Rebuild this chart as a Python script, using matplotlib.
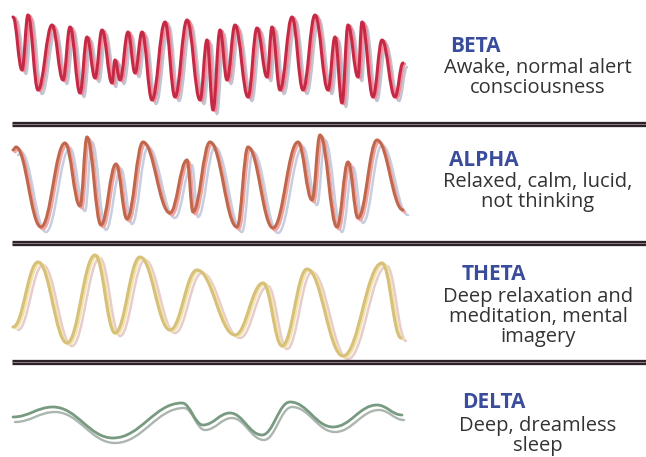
import matplotlib
matplotlib.use('Agg')
import matplotlib.pyplot as plt
from matplotlib.path import Path
from matplotlib.patches import PathPatch
from matplotlib.transforms import ScaledTranslation

# turning points of each trace (pixel coords)
beta_x = [13, 22, 28, 38, 52, 63, 70, 80, 87, 95, 102, 112, 115, 120, 128, 135, 142, 152,
          165, 175, 187, 200, 207, 213, 220, 227, 235, 248, 257, 267, 272, 280, 292, 303,
          315, 328, 335, 342, 348, 358, 362, 373, 382, 395, 403]
beta_y = [17, 70, 15, 90, 25, 80, 27, 93, 37, 78, 30, 83, 60, 80, 32, 73, 32, 100,
          22, 97, 20, 100, 40, 110, 30, 80, 25, 97, 28, 77, 27, 90, 17, 90,
          15, 90, 37, 103, 25, 77, 22, 97, 40, 97, 63]

alpha_x = [13, 16, 41, 65, 80, 87, 101, 116, 127, 143, 170, 187, 193, 210, 237, 248, 273,
           298, 312, 320, 337, 348, 358, 377, 403]
alpha_y = [150, 147, 227, 143, 206, 137, 225, 164, 219, 142, 213, 160, 212, 142, 227, 147, 228,
           142, 200, 135, 227, 162, 218, 140, 210]

theta_x = [13, 38, 67, 95, 115, 140, 170, 197, 235, 263, 282, 307, 343, 382, 401]
theta_y = [327, 262, 343, 255, 333, 257, 330, 270, 335, 283, 346, 269, 356, 263, 338]

delta_x = [13, 53, 113, 182, 203, 230, 262, 290, 333, 377, 402]
delta_y = [417, 407, 438, 403, 425, 413, 435, 402, 427, 405, 415]

names = ['BETA', 'ALPHA', 'THETA', 'DELTA']
descriptions = [['Awake, normal alert', 'consciousness'],
                ['Relaxed, calm, lucid,', 'not thinking'],
                ['Deep relaxation and', 'meditation, mental', 'imagery'],
                ['Deep, dreamless', 'sleep']]
dividers = [124, 243, 362]

fig = plt.figure(figsize=(6.46, 4.57), dpi=100)
ax = fig.add_axes([0, 0, 1, 1])
ax.set_xlim(0, 646)
ax.set_ylim(457, 0)
ax.axis('off')


def wave_path(xs, ys, k=0.4):
    verts = [(xs[0], ys[0])]
    codes = [Path.MOVETO]
    for i in range(1, len(xs)):
        x0, y0, x1, y1 = xs[i - 1], ys[i - 1], xs[i], ys[i]
        d = (x1 - x0) * k
        verts += [(x0 + d, y0), (x1 - d, y1), (x1, y1)]
        codes += [Path.CURVE4] * 3
    return Path(verts, codes)


def draw_wave(xs, ys, color, ghosts, lw=2.2):
    p = wave_path(xs, ys)
    for gcol, dx, dy, glw in ghosts:
        tr = ax.transData + ScaledTranslation(dx / 100, -dy / 100, fig.dpi_scale_trans)
        ax.add_patch(PathPatch(p, fill=False, edgecolor=gcol, lw=glw, transform=tr,
                               capstyle='round', joinstyle='round'))
    ax.add_patch(PathPatch(p, fill=False, edgecolor=color, lw=lw,
                           capstyle='round', joinstyle='round'))


draw_wave(beta_x, beta_y, '#c42a45', [('#bfc6d2', 4, 4, 1.8), ('#f28c9c', 2, 1, 2.0)])
draw_wave(alpha_x, alpha_y, '#c0684e', [('#c6cee0', 5, 5, 1.8), ('#f2a4a0', 2, 2, 2.0)])
draw_wave(theta_x, theta_y, '#d6c07a', [('#e8cccc', 5, 3, 1.8), ('#f2e4a8', 2, 1, 2.0)])
draw_wave(delta_x, delta_y, '#789a80', [('#aab6ae', 2, 5, 1.7)], lw=2.0)

for y in dividers:
    ax.plot([12, 646], [y, y], color='#2d2228', lw=3.8, solid_capstyle='butt')
    ax.plot([12, 646], [y, y], color='#8c7c84', lw=0.7, solid_capstyle='butt')

head_x = [450, 449, 462, 462]
head_y = [46, 161, 275, 403]
desc_y = [68, 182, 297, 426]
for name, lines, hx, hy, dy in zip(names, descriptions, head_x, head_y, desc_y):
    ax.text(hx, hy, name, fontsize=15, fontweight='bold', color='#3a4c9c',
            family='Open Sans', ha='left', va='center')
    for i, line in enumerate(lines):
        ax.text(538, dy + i * 20, line, fontsize=14.5, color='#333333',
                family='Open Sans', ha='center', va='center')

plt.savefig('out.png', dpi=100)
